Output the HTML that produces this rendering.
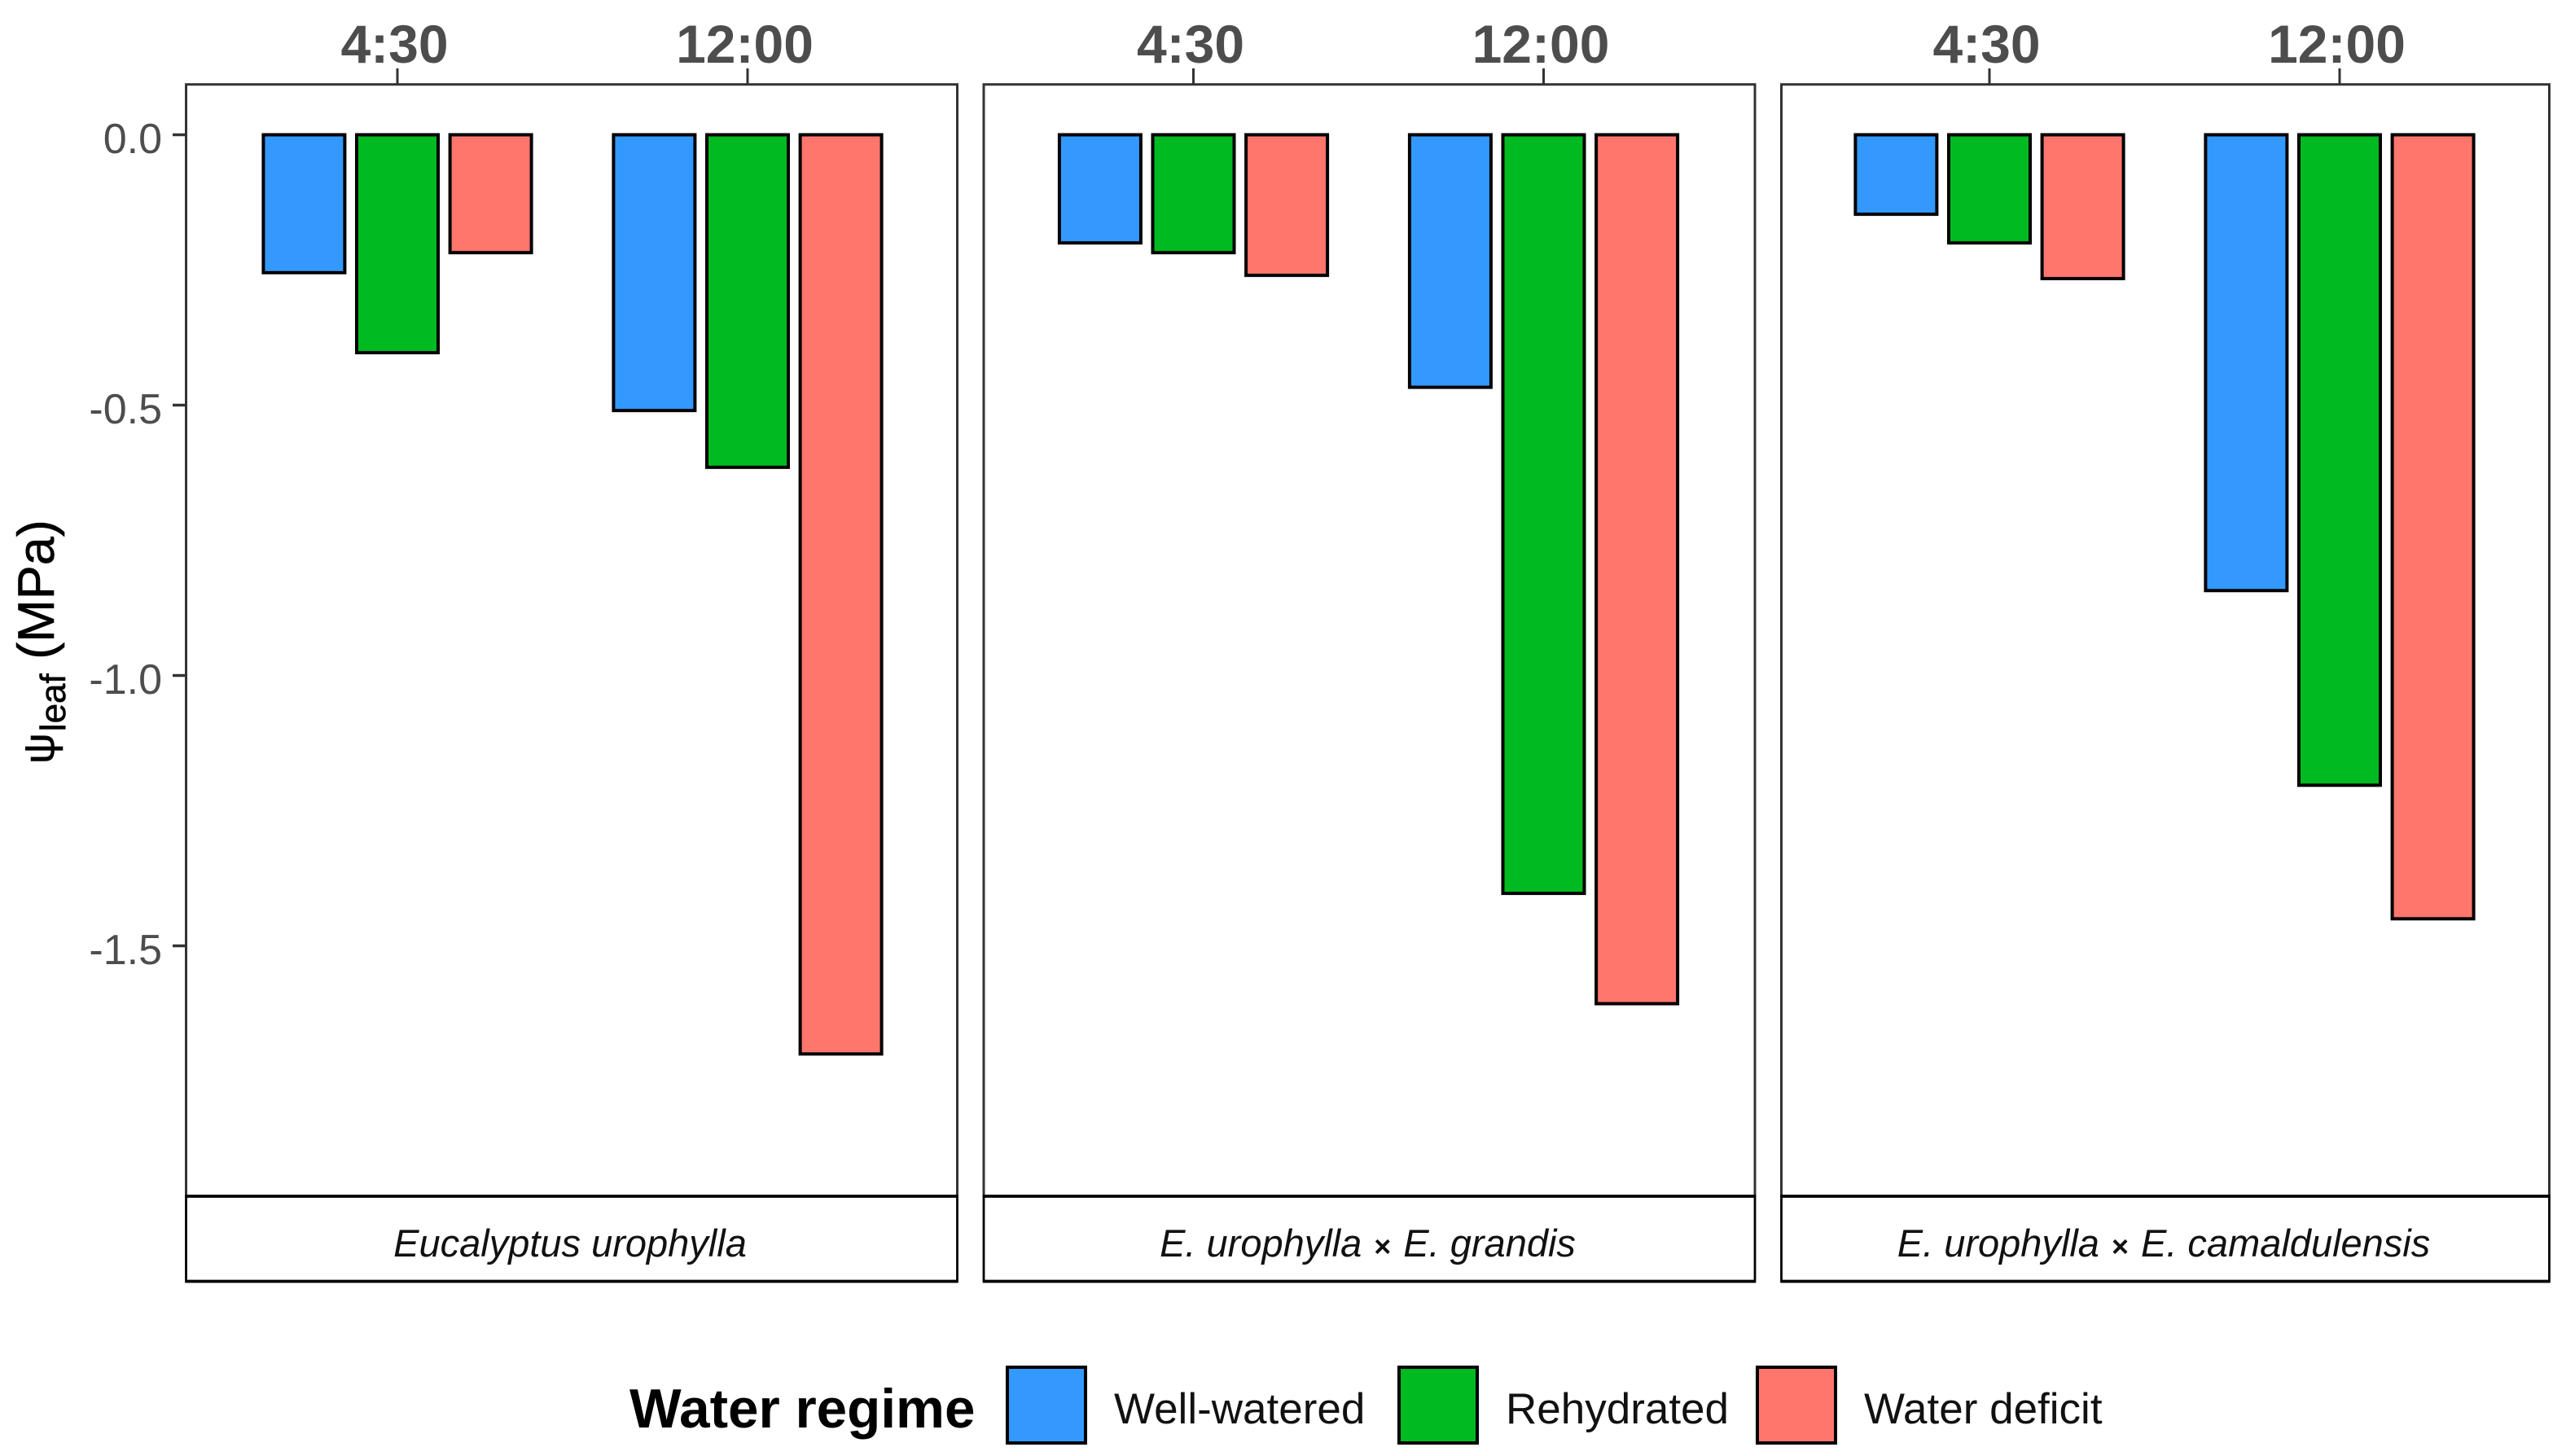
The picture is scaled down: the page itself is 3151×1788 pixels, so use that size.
<!DOCTYPE html>
<html lang="en">
<head>
<meta charset="utf-8">
<title>Leaf water potential by water regime</title>
<style>
html,body{margin:0;padding:0;background:#fff;width:3151px;height:1788px;overflow:hidden}
svg{display:block;font-family:"Liberation Sans",Arial,sans-serif}
</style>
</head>
<body>
<svg id="chart" xmlns="http://www.w3.org/2000/svg" width="3151" height="1788" viewBox="0 0 3151 1788">
  <rect x="0" y="0" width="3151" height="1788" fill="#ffffff"/>
  <text transform="translate(66,938) rotate(-90)" font-size="63" fill="#000" stroke="#000" stroke-width="0.6"><tspan font-size="53">ψ</tspan><tspan font-size="44" dx="2" dy="14">leaf</tspan><tspan dy="-14" xml:space="preserve"> (MPa)</tspan></text>
  <text x="773" y="1753" font-size="67.4" font-weight="700" fill="#000">Water regime</text>
</svg>
<script>
const speciesLabels = [
  ['Eucalyptus urophylla'],
  ['E. urophylla', 'E. grandis'],
  ['E. urophylla', 'E. camaldulensis']
];
const timeLabels = ['4:30', '12:00'];
const regimeLabels = ['Well-watered', 'Rehydrated', 'Water deficit'];
const regimeColors = ['#3399FF', '#00BA21', '#FF766D'];
const yTickValues = [0, -0.5, -1, -1.5];
const yTickLabels = ['0.0', '-0.5', '-1.0', '-1.5'];

const urophyllaValues = [
  [-0.255, -0.403, -0.218],
  [-0.51, -0.615, -1.70]
];
const grandisValues = [
  [-0.20, -0.218, -0.26],
  [-0.467, -1.403, -1.607]
];
const camaldulensisValues = [
  [-0.147, -0.20, -0.266],
  [-0.843, -1.203, -1.45]
];
const facetValues = [urophyllaValues, grandisValues, camaldulensisValues];

const NS = 'http://www.w3.org/2000/svg';
const svg = document.getElementById('chart');

function make(tag, attrs, text) {
  const el = document.createElementNS(NS, tag);
  for (const k in attrs) el.setAttribute(k, attrs[k]);
  if (text !== undefined) el.textContent = text;
  svg.appendChild(el);
  return el;
}

/* axis functions */
function yScale(v) { return 165.5 - v * 664; }
function panelLeft(f) { return 228.5 + f * 979.5; }
function panelRight(f) { return Math.min(panelLeft(f) + 947, 3130.5); }
function xCenter(f, t) { return 488 + f * 977.5 + t * 430; }
function xBar(f, t, r) { return xCenter(f, t) + (r - 1) * 114.6; }

const barWidth = 100;
const panelTop = 103.7;
const stripTop = 1469;
const stripBottom = 1573.5;

facetValues.forEach(function (facet, f) {
  const left = panelLeft(f);
  const right = panelRight(f);

  const panel = make('rect', { x: left, y: panelTop, width: right - left, height: stripTop - panelTop, fill: '#fff', stroke: '#333', 'stroke-width': 3 });
  
  

  facet.forEach(function (group, t) {
    const tick = make('line', { x1: xCenter(f, t), x2: xCenter(f, t), y1: 84, y2: panelTop, stroke: '#333', 'stroke-width': 3 });
    
    

    const label = make('text', { x: xCenter(f, t) - 3.5, y: 77, 'text-anchor': 'middle', 'font-size': 66, 'font-weight': 700, fill: '#4d4d4d' }, timeLabels[t]);
    
    

    group.forEach(function (value, r) {
      const top = yScale(0);
      const bottom = yScale(value);
      const bar = make('rect', { x: xBar(f, t, r) - barWidth / 2, y: Math.min(top, bottom), width: barWidth, height: Math.abs(bottom - top), fill: regimeColors[r], stroke: '#000', 'stroke-width': 4 });
      
      
    });
  });

  const strip = make('rect', { x: left, y: stripTop, width: right - left, height: stripBottom - stripTop, fill: '#fff', stroke: '#000', 'stroke-width': 2.8 });
  
  

  const lineTop = make('line', { x1: left - 1, x2: right + 1, y1: stripTop, y2: stripTop, stroke: '#000', 'stroke-width': 3.8 });
  
  

  const lineBottom = make('line', { x1: left - 1, x2: right + 1, y1: stripBottom, y2: stripBottom, stroke: '#000', 'stroke-width': 3.8 });
  
  

  const stripText = make('text', { x: (left + right) / 2 - 2, y: 1543, 'text-anchor': 'middle', 'font-size': 47, 'font-style': 'italic', fill: '#111' });
  
  
  speciesLabels[f].forEach(function (part, i) {
    if (i > 0) {
      const cross = document.createElementNS(NS, 'tspan');
      cross.setAttribute('font-style', 'normal');
      cross.setAttribute('font-weight', '700');
      cross.setAttribute('font-size', '36');
      cross.setAttribute('dx', '15');
      cross.textContent = '×';
      stripText.appendChild(cross);
    }
    const piece = document.createElementNS(NS, 'tspan');
    if (i > 0) piece.setAttribute('dx', '15');
    piece.textContent = part;
    stripText.appendChild(piece);
  });
});

yTickValues.forEach(function (value, i) {
  const y = yScale(value);
  const tick = make('line', { x1: 212, x2: 228.5, y1: y, y2: y, stroke: '#333', 'stroke-width': 3.4 });
  
  

  const label = make('text', { x: 199, y: y + 22.5, 'text-anchor': 'end', 'font-size': 52, fill: '#4d4d4d' }, yTickLabels[i]);
  
  
});

/* legend */
function legendKeyX(r) { return 1237 + [0, 481, 921][r]; }
function legendTextX(r) { return legendKeyX(r) + 131; }
regimeLabels.forEach(function (name, r) {
  const key = make('rect', { x: legendKeyX(r), y: 1679, width: 96, height: 93, fill: regimeColors[r], stroke: '#000', 'stroke-width': 4 });
  
  

  const label = make('text', { x: legendTextX(r), y: 1748, 'font-size': 53, fill: '#111' }, name);
  
  
});
</script>
</body>
</html>
